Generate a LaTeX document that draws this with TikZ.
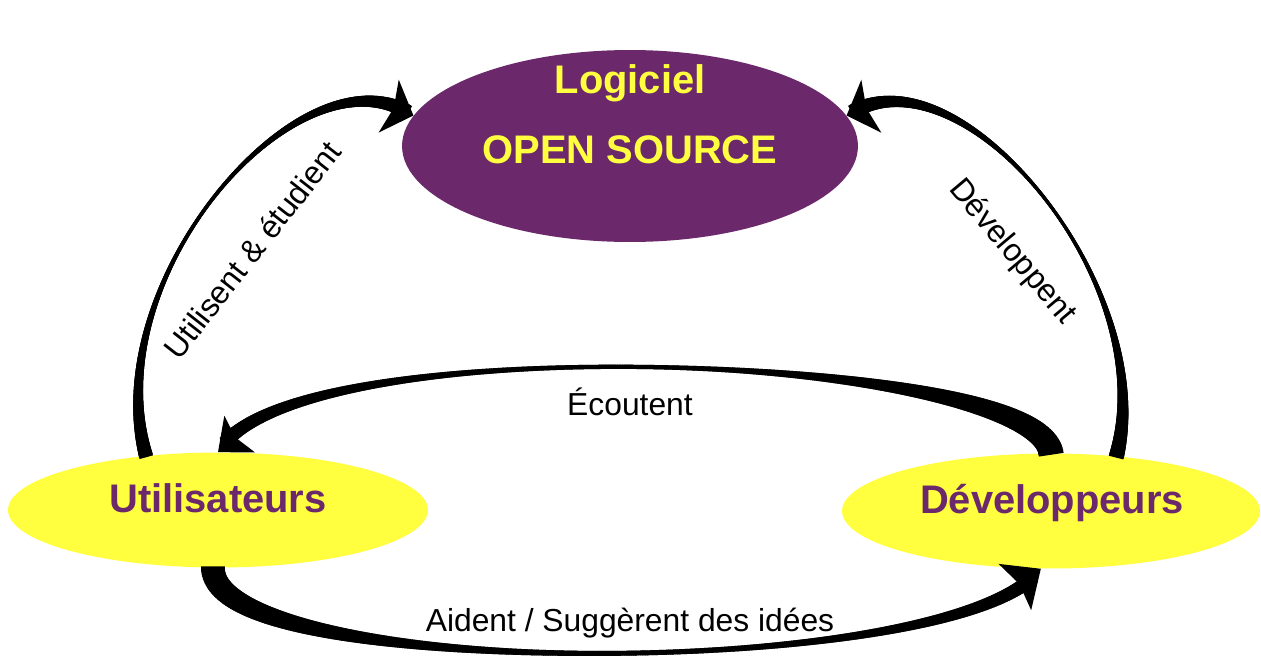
\documentclass[tikz,border=0pt]{standalone}
\usepackage{fontspec}
\setmainfont{Liberation Sans}
\usetikzlibrary{shapes.geometric,arrows.meta,decorations.markings}

\definecolor{ospurple}{RGB}{107,41,107}
\definecolor{osyellow}{RGB}{255,255,64}

\tikzset{
  blob/.style={ellipse, inner sep=0pt, draw=none},
  bigtext/.style={font=\fontsize{22.7}{27}\selectfont\bfseries, anchor=base, inner sep=0pt},
  smalltext/.style={font=\fontsize{18.1}{22}\selectfont, inner sep=0pt},
  % tapered connector: tail width, middle width, head width (pt)
  taper/.style n args={3}{
    postaction={decorate, decoration={markings,
      mark=between positions 0 and 0.975 step 0.002 with {
        \pgfmathsetmacro\tpos{(\pgfkeysvalueof{/pgf/decoration/mark info/sequence number}-1)*0.002}
        \pgfmathsetmacro\halfw{\tpos<0.5 ? 0.5*(#2+(#1-#2)*(1-2*\tpos)^2) : 0.5*(#2+(#3-#2)*(2*\tpos-1)^2)}
        \fill (-0.9pt,-\halfw pt) rectangle (0.9pt,\halfw pt);
      }}}},
  tipline/.style={draw, line width=1.5pt},
}

\begin{document}
\begin{tikzpicture}[x=0.02cm, y=-0.02cm]
  \useasboundingbox (0,0) rectangle (1261,659);

  % the three actors
  \node[blob, fill=ospurple, minimum width=9.12cm, minimum height=3.84cm] (logi) at (630,146) {};
  \node[blob, fill=osyellow, minimum width=8.4cm, minimum height=2.3cm] (user) at (218,510) {};
  \node[blob, fill=osyellow, minimum width=8.36cm, minimum height=2.3cm] (dev) at (1051,511) {};

  \node[bigtext, text=osyellow] (logi-a) at (630,93) {Logiciel};
  \node[bigtext, text=osyellow] (logi-b) at (630,163) {OPEN SOURCE};
  \node[bigtext, text=ospurple] (user-t) at (218,512) {Utilisateurs};
  \node[bigtext, text=ospurple] (dev-t) at (1052,513) {Développeurs};

  % connectors
  \path[taper={7.9}{2}{9}]
    (user.143) .. controls +(-50,-180) and +(-110,-75) .. (logi.172) coordinate[pos=0.9] (use-end);
  \draw[tipline, -{Stealth[length=15pt,width=32pt,inset=3pt]}] (use-end) -- (logi.172);

  \path[taper={8.5}{1.8}{9.2}]
    (dev.40) .. controls +(45,-175) and +(110,-75) .. (logi.8) coordinate[pos=0.9] (dev-end);
  \draw[tipline, -{Stealth[length=15pt,width=32pt,inset=3pt]}] (dev-end) -- (logi.8);

  \path[taper={14.2}{2.4}{8.5}]
    (dev.north) .. controls +(-15,-100) and +(72,-128) .. (user.north) coordinate[pos=0.9] (listen-end);
  \draw[tipline, -{Stealth[length=16pt,width=27pt,inset=3pt]}] (listen-end) -- (user.north);

  \path[taper={13.6}{2.8}{8.5}]
    (user.265) .. controls +(0,114) and +(-83,113) .. (dev.260) coordinate[pos=0.9] (help-end);
  \draw[tipline, -{Stealth[length=18pt,width=32pt,inset=3pt]}] (help-end) -- (dev.260);

  % labels
  \node[smalltext, rotate=52] (use-lbl) at (252,250) {Utilisent \& étudient};
  \node[smalltext, rotate=-50] (dev-lbl) at (1012,252) {Développent};
  \node[smalltext, anchor=base] (listen-lbl) at (630,415) {Écoutent};
  \node[smalltext, anchor=base] (help-lbl) at (630,631) {Aident / Suggèrent des idées};
\end{tikzpicture}
\end{document}
